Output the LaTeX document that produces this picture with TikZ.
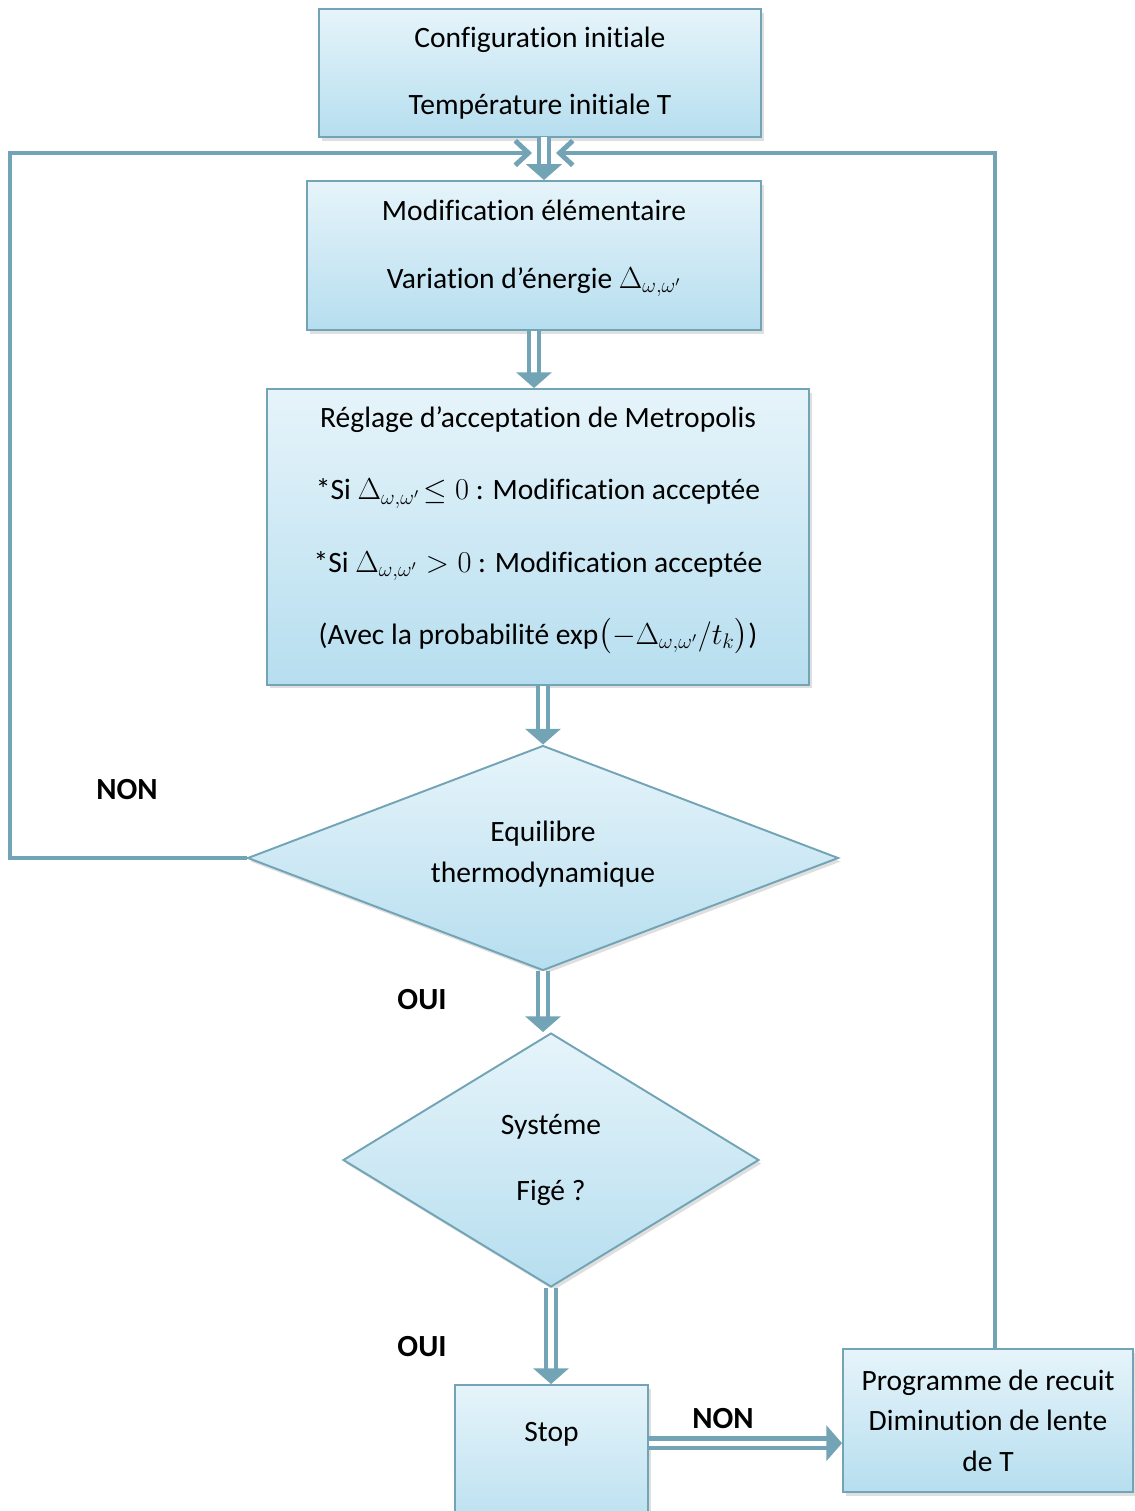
\documentclass[tikz,border=0pt]{standalone}
\usepackage{amsmath}
\usepackage{amssymb}
\usepackage{fontspec}
\setmainfont{Carlito}[Ligatures=NoCommon]
\usepackage{tikz}
\usetikzlibrary{shapes.geometric,arrows.meta,shadows}
\usepackage{xcolor}
\definecolor{bord}{HTML}{72A4B6}
\definecolor{haut}{HTML}{E6F4FA}
\definecolor{bas}{HTML}{B6DEEF}

\begin{document}
\begin{tikzpicture}[x=0.02cm, y=-0.02cm,
    boite/.style={draw=bord, line width=1.1pt, top color=haut, bottom color=bas, align=center, inner sep=0pt,
        drop shadow={opacity=0.25, shadow xshift=1.5pt, shadow yshift=-2pt}},
    losange/.style={boite, diamond},
    fleche/.style={draw=bord, line width=2.6pt, double=white, double distance=3pt, -{Triangle[length=9pt, width=20pt]}},
    retour/.style={draw=bord, line width=2.8pt, -{Straight Barb[length=7.5pt, width=14pt]}},
    reponse/.style={font=\fontsize{17.5}{20}\selectfont\bfseries}]
        \useasboundingbox (0,0) rectangle (1135,1511);

        \node[boite, minimum width=8.84cm, minimum height=2.56cm, font=\fontsize{16.8}{38}\selectfont] (init) at (540,73)
            {Configuration initiale\\Température initiale T};
        \node[boite, minimum width=9.08cm, minimum height=2.98cm, font=\fontsize{16.8}{38.5}\selectfont] (modif) at (534,255.5)
            {Modification élémentaire\\Variation d’énergie $\Delta_{\omega,\omega'}$\rule[-13pt]{0pt}{13pt}};
        \node[boite, minimum width=10.84cm, minimum height=5.92cm, font=\fontsize{16.8}{41}\selectfont] (metro) at (538,537)
            {Réglage d’acceptation de Metropolis\\
             *Si $\Delta_{\omega,\omega'}\!\leq 0$ : Modification acceptée\\
             *Si $\Delta_{\omega,\omega'} > 0$ : Modification acceptée\\
             (Avec la probabilité exp$\bigl(-\Delta_{\omega,\omega'}/t_k\bigr)$)\rule[-13pt]{0pt}{13pt}};
        \node[losange, aspect=2.6, minimum width=11.82cm, minimum height=4.5cm, font=\fontsize{16.8}{23}\selectfont] (equil) at (543,858)
            {Equilibre\\thermodynamique\rule[-7pt]{0pt}{7pt}};
        \node[losange, aspect=1.64, minimum width=8.32cm, minimum height=5.08cm, font=\fontsize{16.8}{38}\selectfont] (fige) at (551,1160)
            {Systéme\\Figé ?};
        \node[boite, minimum width=3.86cm, minimum height=3.1cm, text height=8pt, text depth=32pt, font=\fontsize{16.8}{18}\selectfont] (stop) at (551.5,1462.5)
            {Stop};
        \node[boite, minimum width=5.8cm, minimum height=2.86cm, font=\fontsize{16.8}{23}\selectfont] (recuit) at (988,1420.5)
            {Programme de recuit\\Diminution de lente\\de T};

        \node[reponse] (non-g) at (127,790) {NON};
        \node[reponse] (oui-1) at (422,1000) {OUI};
        \node[reponse] (oui-2) at (422,1347) {OUI};
        \node[reponse] (non-d) at (723,1419) {NON};

        % boucles de retour
        \coordinate (coin-g) at (10,153);
        \coordinate (entree-g) at (532,153);
        \coordinate (coin-d) at (995,153);
        \coordinate (entree-d) at (556,153);
        \draw[retour] (equil.west) -| (coin-g) -- (entree-g);
        \draw[retour] (recuit.north -| coin-d) -- (coin-d) -- (entree-d);

        \coordinate (haut-init) at (544,137);
        \draw[fleche] (haut-init) -- (haut-init |- modif.north);
        \draw[fleche] (modif.south) -- (modif.south |- metro.north);
        \draw[fleche] (equil.north |- metro.south) -- (equil.north);
        \draw[fleche] (equil.south) -- (fige.north -| equil.south);
        \draw[fleche] (fige.south) -- (fige.south |- stop.north);
        \draw[fleche] ([yshift=11pt]stop.east) coordinate (s) -- (s -| recuit.west);
\end{tikzpicture}
\end{document}
